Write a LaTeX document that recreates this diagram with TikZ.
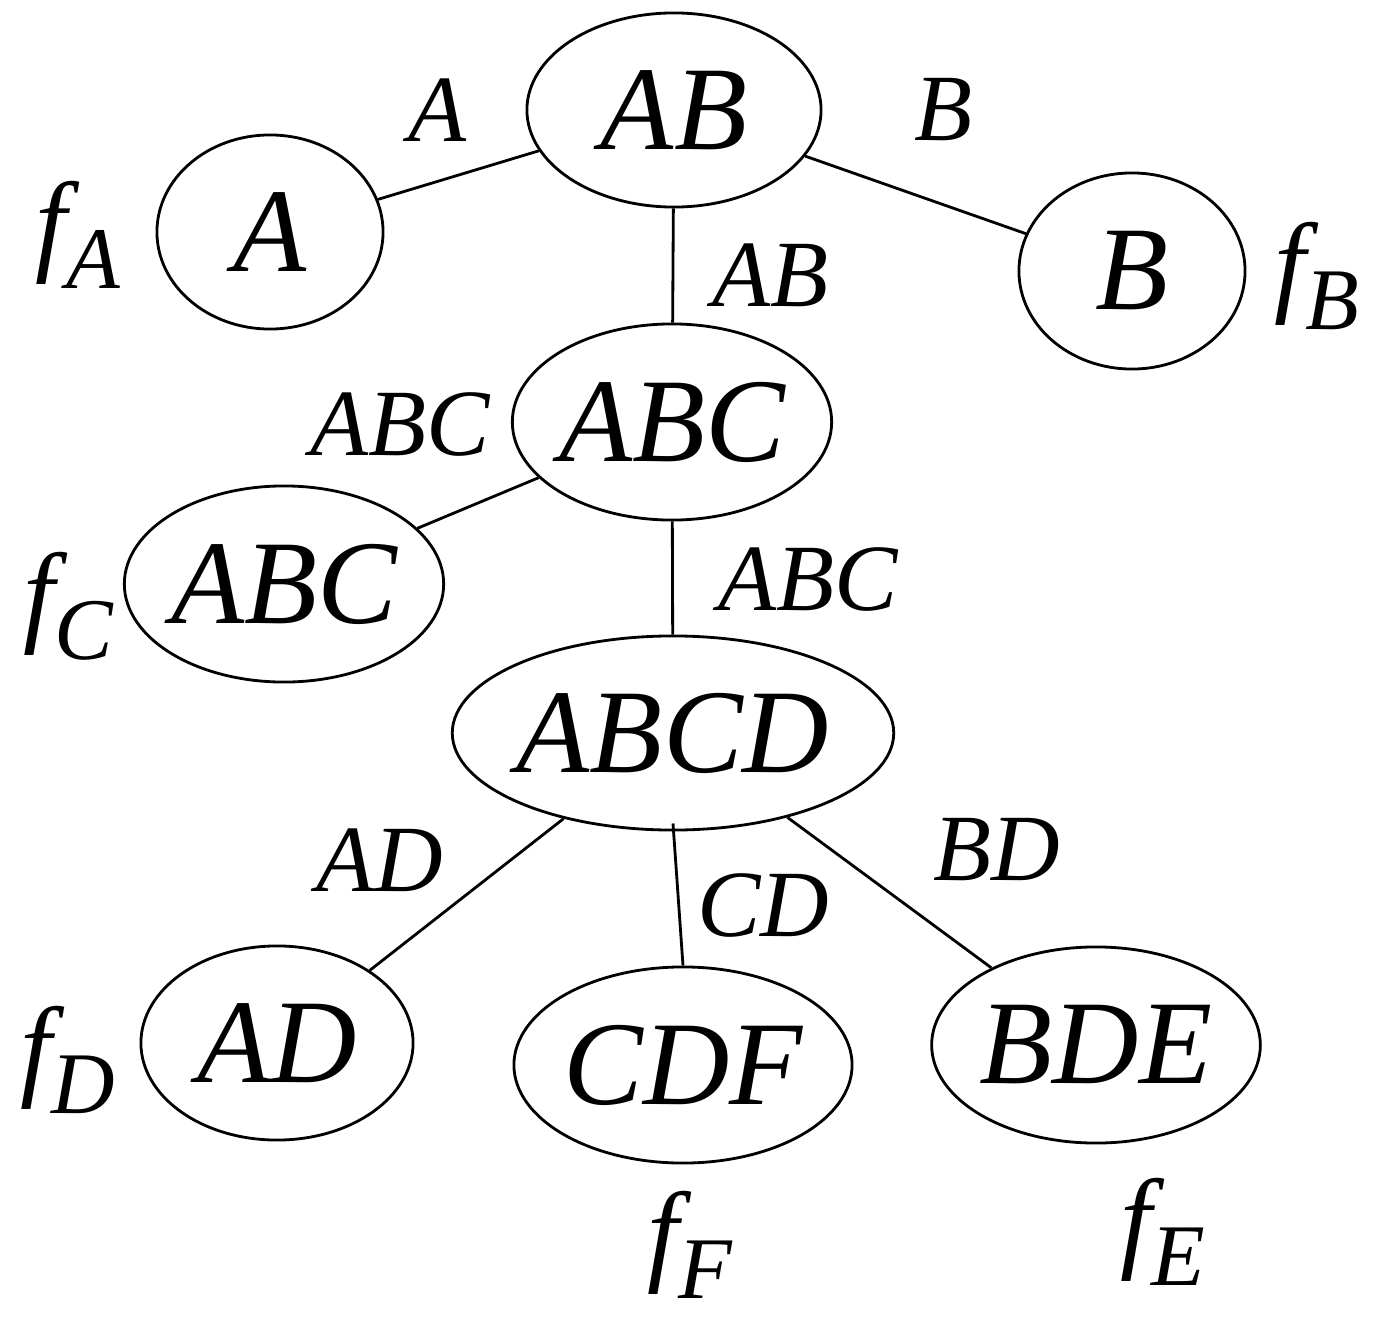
\documentclass[tikz,border=0pt]{standalone}
\usepackage{fontspec}
\setmainfont{Liberation Serif}[ItalicFont={Liberation Serif Italic}]
\usetikzlibrary{shapes.geometric}
\newcommand{\fsub}[1]{f\raisebox{-0.25em}{\fontsize{25}{27}\selectfont #1}}
\tikzset{
  clique/.style={draw, ellipse, inner sep=0pt, font=\fontsize{34}{36}\selectfont\itshape},
  sepl/.style={font=\fontsize{27}{30}\selectfont\itshape},
  flab/.style={font=\fontsize{32}{34}\selectfont\itshape}
}
\begin{document}
\begin{tikzpicture}[x=0.01cm,y=-0.01cm,line width=0.8pt]
    \useasboundingbox (0,0) rectangle (1384,1318);
    %Cliques
    \node[clique, minimum width=2.94cm, minimum height=1.94cm] (ab) at (674,110) {AB};
    \node[clique, minimum width=2.26cm, minimum height=1.94cm] (a) at (270,232) {A};
    \node[clique, minimum width=2.26cm, minimum height=1.96cm] (b) at (1132,271) {B};
    \node[clique, minimum width=2.97cm, minimum height=1.96cm] (abc) at (672,422) {ABC};
    \node[clique, minimum width=2.96cm, minimum height=1.96cm] (abcl) at (284,584) {ABC};
    \node[clique, minimum width=4.22cm, minimum height=1.94cm] (abcd) at (673,733) {ABCD};
    \node[clique, minimum width=2.72cm, minimum height=1.94cm] (ad) at (277,1043) {AD};
    \node[clique, minimum width=2.94cm, minimum height=1.96cm] (cdf) at (683,1065) {CDF};
    \node[clique, minimum width=2.96cm, minimum height=1.96cm] (bde) at (1096,1045) {BDE};
    %Edges
    \draw (ab) -- (a);
    \draw (ab) -- (b);
    \draw (ab) -- (abc);
    \draw (abc) -- (abcl);
    \draw (abc) -- (abcd);
    \draw (abcd) -- (ad);
    \draw (abcd.south) ++(0,-8) coordinate (cdtop);
    \draw (cdtop) -- (cdf.north);
    \draw (abcd) -- (bde);
    %Separators
    \node[sepl] (sa) at (437,110) {A};
    \node[sepl] (sb) at (943,110) {B};
    \node[sepl] (sab) at (770,275) {AB};
    \node[sepl] (sabcl) at (400,425) {ABC};
    \node[sepl] (sabc) at (808,580) {ABC};
    \node[sepl] (sad) at (380,860) {AD};
    \node[sepl] (scd) at (763,905) {CD};
    \node[sepl] (sbd) at (997,850) {BD};
    %Factors
    \node[flab] (fa) at (78,235) {\fsub{A}};
    \node[flab] (fb) at (1317,276) {\fsub{B}};
    \node[flab] (fc) at (68,606) {\fsub{C}};
    \node[flab] (fd) at (68,1060) {\fsub{D}};
    \node[flab] (ff) at (690,1245) {\fsub{F}};
    \node[flab] (fe) at (1163,1232) {\fsub{E}};
\end{tikzpicture}
\end{document}
